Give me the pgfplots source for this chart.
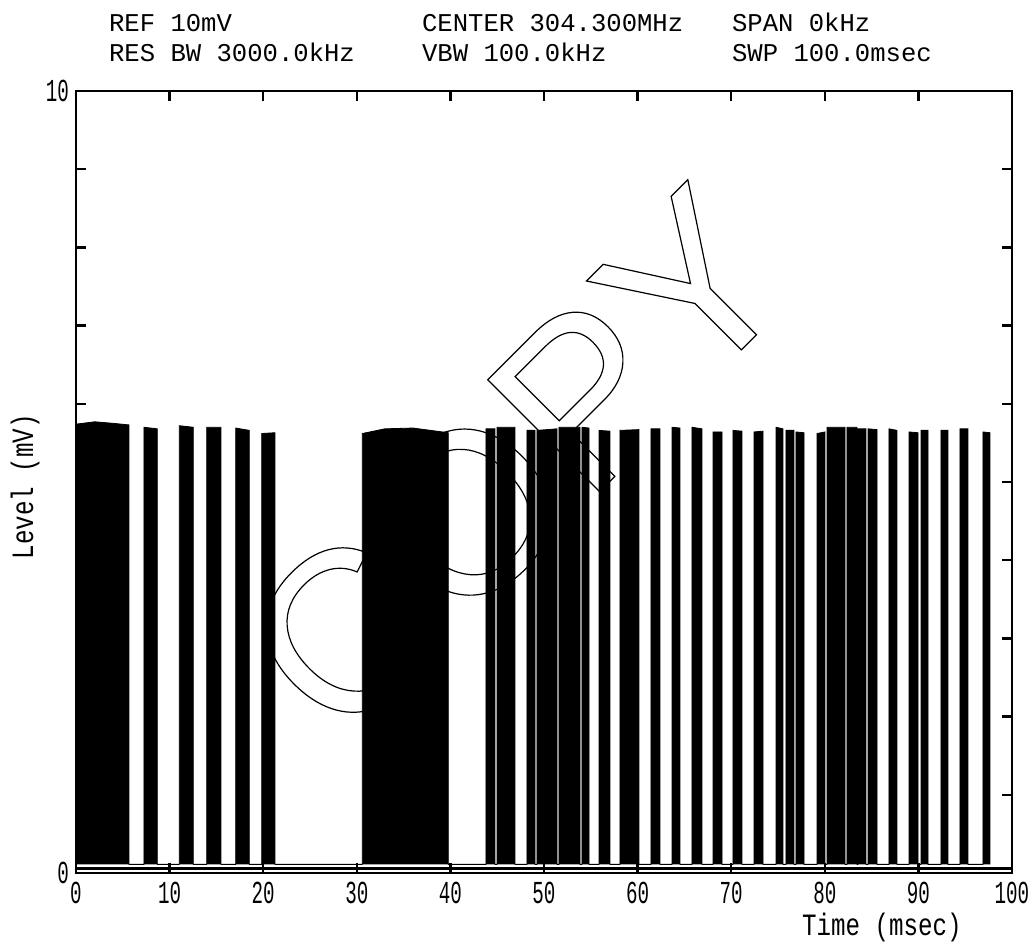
\documentclass[border=0pt]{standalone}
\usepackage{fontspec}
\setmainfont{Liberation Mono}
\newfontfamily\wmfont{Liberation Sans}
\usepackage{pgfplots}
\pgfplotsset{compat=1.18}

\newcommand\hdr{\fontsize{12.8}{14}\selectfont}
\newcommand\tk[1]{\scalebox{0.6}[1]{\fontsize{16}{16}\selectfont #1}}
\newcommand\lab[1]{\scalebox{0.78}[1]{\fontsize{15.5}{16}\selectfont #1}}
% outlined text for the watermark
\newcommand\outl[1]{\special{pdf:literal direct 1 Tr 0.6 w}#1\special{pdf:literal direct 0 Tr}}

\begin{document}
\begin{tikzpicture}
\begin{axis}[
    width=468pt, height=391pt, scale only axis,
    xmin=0, xmax=100, ymin=0, ymax=10,
    xtick={0,10,...,100},
    xticklabels={\tk{0},\tk{10},\tk{20},\tk{30},\tk{40},\tk{50},\tk{60},\tk{70},\tk{80},\tk{90},\tk{100}},
    ytick={0,1,...,10},
    yticklabels={\tk{0},{},{},{},{},{},{},{},{},{},\tk{10}},
    xticklabel style={yshift=-1pt},
    tick align=inside, major tick length=5pt,
    tick style={line width=1.2pt, black},
    axis line style={line width=1.3pt},
    xlabel={\lab{Time (msec)}},
    xlabel style={at={(rel axis cs:0.861,-0.0703)}, anchor=center},
    ylabel={\lab{Level (mV)}},
    ylabel style={at={(rel axis cs:-0.0545,0.494)}, anchor=center},
    clip=false,
]
% pulse envelope
\addplot[fill=black, draw=black, line width=0.4pt] coordinates {
(0,0.11)(0,5.74)(2,5.77)(4,5.75)(5.66,5.73)(5.66,0.11)
(7.26,0.11)(7.26,5.70)(8.69,5.68)(8.69,0.11)
(11.04,0.11)(11.04,5.72)(12.53,5.70)(12.53,0.11)
(13.96,0.11)(13.96,5.70)(15.49,5.70)(15.49,0.11)
(17.06,0.11)(17.06,5.69)(18.52,5.66)(18.52,0.11)
(19.84,0.11)(19.84,5.62)(21.26,5.63)(21.26,0.11)
(30.59,0.11)(30.59,5.62)(33,5.68)(36,5.69)(39.78,5.63)(39.78,0.11)
(43.80,0.11)(43.80,5.68)(44.76,5.68)(44.76,0.11)
(44.98,0.11)(44.98,5.70)(46.90,5.70)(46.90,0.11)
(48.18,0.11)(48.18,5.66)(49.04,5.66)(49.04,0.11)
(49.25,0.11)(49.25,5.66)(51.39,5.68)(51.39,0.11)
(51.60,0.11)(51.60,5.70)(53.85,5.70)(53.85,0.11)
(54.06,0.11)(54.06,5.70)(54.81,5.69)(54.81,0.11)
(55.88,0.11)(55.88,5.66)(57.05,5.65)(57.05,0.11)
(58.12,0.11)(58.12,5.66)(60.15,5.67)(60.15,0.11)
(61.43,0.11)(61.43,5.68)(62.39,5.68)(62.39,0.11)
(63.68,0.11)(63.68,5.70)(64.53,5.69)(64.53,0.11)
(65.81,0.11)(65.81,5.70)(66.88,5.68)(66.88,0.11)
(68.06,0.11)(68.06,5.64)(69.02,5.64)(69.02,0.11)
(70.19,0.11)(70.19,5.66)(71.15,5.65)(71.15,0.11)
(72.44,0.11)(72.44,5.64)(73.40,5.65)(73.40,0.11)
(74.79,0.11)(74.79,5.70)(75.53,5.68)(75.53,0.11)
(75.85,0.11)(75.85,5.66)(76.71,5.66)(76.71,0.11)
(76.92,0.11)(76.92,5.64)(77.78,5.63)(77.78,0.11)
(79.17,0.11)(79.17,5.62)(80.02,5.64)(80.02,0.11)
(80.24,0.11)(80.24,5.70)(82.16,5.70)(82.16,0.11)
(82.37,0.11)(82.37,5.70)(83.44,5.70)(83.44,0.11)
(83.55,0.11)(83.55,5.68)(84.40,5.68)(84.40,0.11)
(84.62,0.11)(84.62,5.68)(85.58,5.67)(85.58,0.11)
(86.86,0.11)(86.86,5.68)(87.71,5.66)(87.71,0.11)
(89.00,0.11)(89.00,5.64)(89.96,5.63)(89.96,0.11)
(90.28,0.11)(90.28,5.66)(91.03,5.66)(91.03,0.11)
(92.41,0.11)(92.41,5.66)(93.16,5.66)(93.16,0.11)
(94.44,0.11)(94.44,5.68)(95.30,5.68)(95.30,0.11)
(96.90,0.11)(96.90,5.64)(97.65,5.63)(97.65,0.11)
};
% noise floor
\addplot[black, line width=1.6pt] coordinates {(0,0.055)(100,0.055)};

% watermark
\node[rotate=45, anchor=center, inner sep=0pt] at (axis cs:47.1,5.25)
  {\wmfont\fontsize{115}{115}\selectfont\outl{COPY}};

% instrument settings header
\node[anchor=base west, font=\hdr] at (rel axis cs:0.0278,1.0767) {REF 10mV};
\node[anchor=base west, font=\hdr] at (rel axis cs:0.3622,1.0767) {CENTER 304.300MHz};
\node[anchor=base west, font=\hdr] at (rel axis cs:0.6934,1.0767) {SPAN 0kHz};
\node[anchor=base west, font=\hdr] at (rel axis cs:0.0278,1.0371) {RES BW 3000.0kHz};
\node[anchor=base west, font=\hdr] at (rel axis cs:0.3622,1.0371) {VBW 100.0kHz};
\node[anchor=base west, font=\hdr] at (rel axis cs:0.6934,1.0371) {SWP 100.0msec};

\coordinate (bbA) at (rel axis cs:-0.0812,-0.0946);
\coordinate (bbB) at (rel axis cs:1.0214,1.1164);
\end{axis}
\pgfresetboundingbox
\path[use as bounding box] (bbA) rectangle (bbB);
\end{tikzpicture}
\end{document}
